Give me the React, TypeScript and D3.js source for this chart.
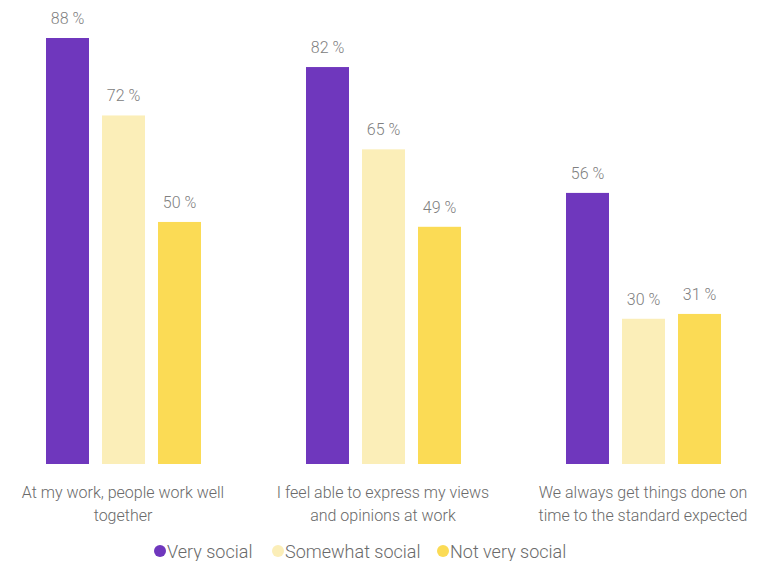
import React from "react";
import * as d3 from "d3";

const categories = [
  ["At my work, people work well", "together"],
  ["I feel able to express my views", "and opinions at work"],
  ["We always get things done on", "time to the standard expected"],
];
const seriesNames = ["Very social", "Somewhat social", "Not very social"];
const verySocial = [88, 82, 56];
const somewhatSocial = [72, 65, 30];
const notVerySocial = [50, 49, 31];
const colors = ["#6f37bd", "#fbeeb8", "#fbdb55"];

const W = 773;
const H = 561;
const FONT = "'Roboto', sans-serif";

export default function App() {
  const series = [verySocial, somewhatSocial, notVerySocial];
  const x0 = d3.scaleBand<number>().domain([0, 1, 2]).range([-7, 773]).padding(0);
  const x1 = d3
    .scaleBand<number>()
    .domain([0, 1, 2])
    .range([53, 208])
    .paddingInner(13 / 56)
    .paddingOuter(0);
  const y = d3.scaleLinear().domain([0, 88]).range([464, 38]);

  const legendX = [160, 278, 443];

  return (
    <svg
      width={W}
      height={H}
      style={{ position: "absolute", left: 0, top: 0, background: "#fff" }}
    >
      {categories.map((cat, ci) => (
        <g key={ci} transform={`translate(${x0(ci)},0)`}>
          {series.map((vals, si) => {
            const v = vals[ci];
            const bx = x1(si)!;
            const bw = x1.bandwidth();
            return (
              <g key={si}>
                <rect x={bx} y={y(v)} width={bw} height={y(0) - y(v)} fill={colors[si]} />
                <text
                  x={bx + bw / 2}
                  y={y(v) - 14}
                  textAnchor="middle"
                  fontFamily={FONT}
                  fontWeight={300}
                  fontSize={16}
                  fill="#808080"
                >
                  {v} %
                </text>
              </g>
            );
          })}
          {cat.map((line, li) => (
            <text
              key={li}
              x={x0.bandwidth() / 2}
              y={498 + li * 23}
              textAnchor="middle"
              fontFamily={FONT}
              fontWeight={300}
              fontSize={16}
              fill="#6a6a6a"
            >
              {line}
            </text>
          ))}
        </g>
      ))}
      {seriesNames.map((name, i) => (
        <g key={name}>
          <circle cx={legendX[i]} cy={551} r={6} fill={colors[i]} />
          <text
            x={legendX[i] + 7}
            y={558}
            fontFamily={FONT}
            fontWeight={300}
            fontSize={18}
            fill="#6a6a6a"
          >
            {name}
          </text>
        </g>
      ))}
    </svg>
  );
}
